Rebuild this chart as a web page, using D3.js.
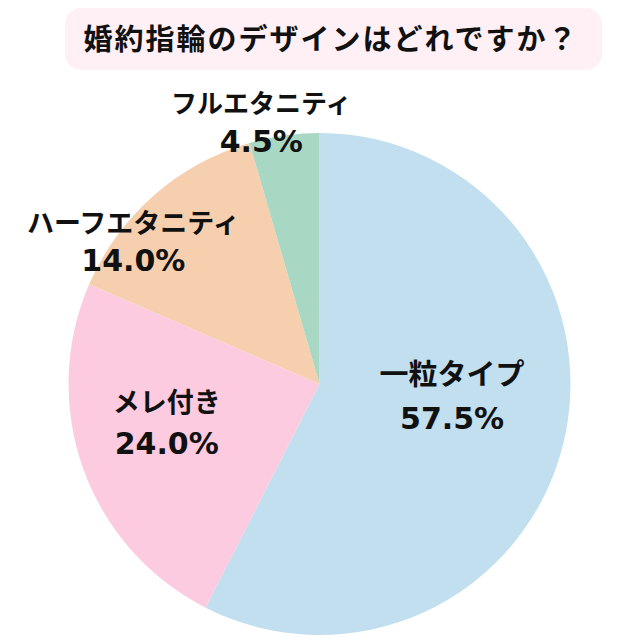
<!DOCTYPE html>
<html>
<head>
<meta charset="utf-8">
<script src="https://cdn.jsdelivr.net/npm/d3@7"></script>
<style>
  html, body { margin: 0; padding: 0; background: #fff; }
  svg { display: block; }
</style>
</head>
<body>
<svg id="chart"></svg>
<script>
var title = "婚約指輪のデザインはどれですか？";
var categories = ["一粒タイプ", "メレ付き", "ハーフエタニティ", "フルエタニティ"];
var values = [57.5, 24.0, 14.0, 4.5];
var colors = ["#c2dff0", "#fdcbe0", "#f5cfae", "#a8d8c3"];

var width = 640, height = 640;
var cx = 319.5, cy = 384, radius = 251;

// label placement tweaks (radius from center, angle nudge in degrees, line offsets)
var label_pos = [
  {r: 133, da: -9, size: 29, ny: -9, py: 35},
  {r: 158, da: 5, size: 27, ny: -12, py: 30},
  {r: 235, da: -11, size: 27, ny: -8, py: 30},
  {r: 267, da: -4.5, size: 26, ny: -10, py: 29}
];

var svg = d3.select("#chart").attr("width", width).attr("height", height);

// title box
svg.append("rect")
  .attr("x", 65).attr("y", 8)
  .attr("width", 537).attr("height", 62)
  .attr("rx", 16).attr("ry", 16)
  .style("fill", "#fff0f5");

svg.append("text")
  .attr("x", 331).attr("y", 50)
  .attr("text-anchor", "middle")
  .style("font-family", "'Noto Sans CJK JP', sans-serif")
  .style("font-weight", 700)
  .style("font-size", "29px")
  .style("letter-spacing", "2px")
  .style("fill", "#111")
  .text(title);

var rows = categories.map(function(c, i) { return {name: c, value: values[i], color: colors[i], idx: i}; });

var pie = d3.pie().sort(null).value(d => d.value);
var arc = d3.arc().innerRadius(0).outerRadius(radius);
var arcs = pie(rows);

var g = svg.append("g").attr("transform", "translate(" + cx + "," + cy + ")");

g.selectAll(".slice")
  .data(arcs)
  .enter()
  .append("path")
    .attr("class", "slice")
    .attr("d", arc)
    .style("fill", d => d.data.color)
    .style("stroke", "none");

var labels = g.selectAll(".slice_label")
  .data(arcs)
  .enter()
  .append("g")
    .attr("class", "slice_label")
    .attr("transform", function(d) {
      let p = label_pos[d.data.idx];
      let a = (d.startAngle + d.endAngle) / 2 + p.da * Math.PI / 180;
      return "translate(" + (Math.sin(a) * p.r) + "," + (-Math.cos(a) * p.r) + ")";
    });

labels.append("text")
  .attr("text-anchor", "middle")
  .attr("y", d => label_pos[d.data.idx].ny)
  .style("font-family", "'Noto Sans CJK JP', sans-serif")
  .style("font-weight", 700)
  .style("font-size", d => label_pos[d.data.idx].size + "px")
  .style("fill", "#111")
  .text(d => d.data.name);

labels.append("text")
  .attr("text-anchor", "middle")
  .attr("y", d => label_pos[d.data.idx].py)
  .style("font-family", "'DejaVu Sans', sans-serif")
  .style("font-weight", 700)
  .style("font-size", "30px")
  .style("fill", "#111")
  .text(d => d.data.value.toFixed(1) + "%");
</script>
</body>
</html>
